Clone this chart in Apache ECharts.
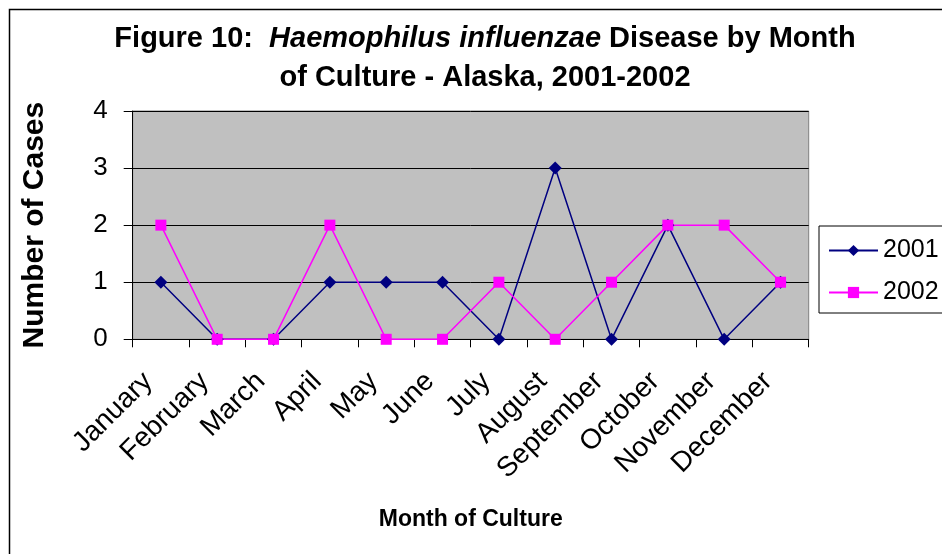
<!DOCTYPE html>
<html>
<head>
<meta charset="utf-8">
<script src="https://cdn.jsdelivr.net/npm/echarts@6/dist/echarts.min.js"></script>
<style>
  html, body { margin: 0; padding: 0; background: #fff; }
  #chart { width: 942px; height: 554px; }
</style>
</head>
<body>
<div id="chart"></div>
<script>
const months = ['January', 'February', 'March', 'April', 'May', 'June', 'July',
  'August', 'September', 'October', 'November', 'December'];
const cases2001 = [1, 0, 0, 1, 1, 1, 0, 3, 0, 2, 0, 1];
const cases2002 = [2, 0, 0, 2, 0, 0, 1, 0, 1, 2, 2, 1];
const yTicks = [0, 1, 2, 3, 4];

const font = '"Liberation Sans", Arial, sans-serif';

const myChart = echarts.init(document.getElementById('chart'));

const option = {
  backgroundColor: '#fff',
  animation: false,
  // outer chart border (runs off the right and bottom of the picture)
  graphic: [{
    type: 'rect',
    shape: { x: 9.5, y: 9.5, width: 1000, height: 1000 },
    style: { fill: null, stroke: '#000', lineWidth: 1.5 },
    silent: true
  }],
  title: {
    left: 485,
    top: 19,
    padding: 0,
    textAlign: 'center',
    text: '{b|Figure 10:  }{i|Haemophilus influenzae}{b| Disease by Month}\n{b|of Culture - Alaska, 2001-2002}',
    textStyle: {
      fontFamily: font,
      lineHeight: 39,
      rich: {
        b: { fontFamily: font, fontSize: 29, fontWeight: 'bold', color: '#000', lineHeight: 39 },
        i: { fontFamily: font, fontSize: 29, fontWeight: 'bold', fontStyle: 'italic', color: '#000', lineHeight: 39 }
      }
    }
  },
  legend: {
    orient: 'vertical',
    left: 819,
    top: 226,
    padding: [12, 4, 8, 9],
    itemGap: 17,
    itemWidth: 49,
    itemHeight: 14,
    borderColor: '#000',
    borderWidth: 1,
    borderRadius: 0,
    backgroundColor: '#fff',
    textStyle: { fontFamily: font, fontSize: 25, color: '#000', lineHeight: 24 },
    data: ['2001', '2002']
  },
  grid: {
    left: 132.7,
    right: 133.3,
    top: 111,
    bottom: 214.7,
    show: true,
    backgroundColor: '#C0C0C0',
    borderColor: '#808080',
    borderWidth: 1
  },
  xAxis: {
    type: 'category',
    data: months,
    boundaryGap: true,
    name: 'Month of Culture',
    nameLocation: 'middle',
    nameGap: 169,
    nameTextStyle: { fontFamily: font, fontSize: 23, fontWeight: 'bold', color: '#000' },
    axisLine: { lineStyle: { color: '#000', width: 1 } },
    axisTick: { show: true, length: 8, lineStyle: { color: '#000' } },
    axisLabel: {
      rotate: 45,
      interval: 0,
      margin: 25,
      padding: [0, 18, 0, 0],
      fontFamily: font,
      fontSize: 28,
      color: '#000'
    }
  },
  yAxis: {
    type: 'value',
    min: yTicks[0],
    max: yTicks[yTicks.length - 1],
    interval: 1,
    name: 'Number of Cases',
    nameLocation: 'middle',
    nameGap: 83,
    nameTextStyle: { fontFamily: font, fontSize: 30, fontWeight: 'bold', color: '#000' },
    axisLine: { show: true, lineStyle: { color: '#000', width: 1 } },
    axisTick: { show: true, length: 9, lineStyle: { color: '#000' } },
    axisLabel: { margin: 25, fontFamily: font, fontSize: 26, color: '#000' },
    splitLine: { show: true, lineStyle: { color: '#000', width: 1 } }
  },
  series: [
    {
      name: '2001',
      type: 'line',
      data: cases2001,
      symbol: 'diamond',
      symbolSize: 13,
      color: '#000080',
      lineStyle: { color: '#000080', width: 1.5 },
      itemStyle: { color: '#000080' }
    },
    {
      name: '2002',
      type: 'line',
      data: cases2002,
      symbol: 'rect',
      symbolSize: 11,
      color: '#FF00FF',
      lineStyle: { color: '#FF00FF', width: 1.5 },
      itemStyle: { color: '#FF00FF' }
    }
  ]
};

myChart.setOption(option);
</script>
</body>
</html>
